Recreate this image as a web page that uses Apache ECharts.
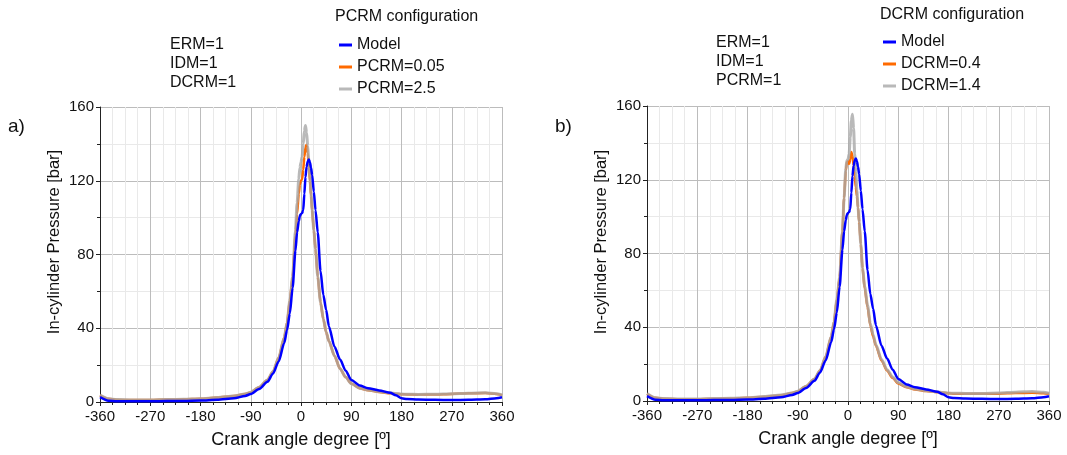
<!DOCTYPE html>
<html>
<head>
<meta charset="utf-8">
<script src="https://cdn.jsdelivr.net/npm/echarts@6/dist/echarts.min.js"></script>
<style>
  html, body { margin: 0; padding: 0; background: #fff; }
  #main { width: 1067px; height: 455px; }
</style>
</head>
<body>
<div id="main"></div>
<script>
// crank angle grid shared by every curve (deg)
var angles = [
  -360, -345, -330, -300, -270, -240, -210, -180, -150, -120,
  -100, -90, -75, -60, -50, -40, -30, -25, -20, -15,
  -10, -7, -4, -2, 0, 2, 4, 6, 8, 10,
  12, 14, 16, 18, 20, 23, 26, 30, 35, 40,
  45, 50, 60, 70, 80, 90, 105, 120, 140, 160,
  170, 180, 190, 210, 240, 270, 300, 330, 350, 360
]

// in-cylinder pressure [bar]
var model = [
  2.6, 0.7, 0.4, 0.4, 0.4, 0.5, 0.6, 0.8, 1.2, 2.0,
  3.3, 4.3, 7, 11, 15.5, 22, 32, 39, 48, 62,
  82, 92, 98, 101, 102, 102.5, 104, 113, 122, 127.5,
  130.5, 131.5, 130, 127, 123, 114, 104, 92, 71, 58,
  50, 41, 30, 23, 17, 12, 9, 7.5, 6.3, 5,
  3.6, 2, 1.6, 1.3, 1.2, 1.1, 1.2, 1.5, 2.1, 2.6
]
var pcrm005 = [
  3.6, 1.7, 1.2, 1.1, 1.1, 1.3, 1.5, 1.8, 2.4, 3.2,
  4.4, 5.2, 8, 12, 16.5, 24, 35, 43, 55, 68,
  90, 102, 113, 118, 120, 121, 126, 133, 138, 139.5,
  135, 128, 120, 112, 104, 93, 83, 68, 54, 45,
  38, 33, 25, 18, 13.5, 10, 7.5, 6.4, 5.4, 4.7,
  4.4, 4.2, 4.1, 4, 4.1, 4.4, 4.7, 4.9, 4.4, 3.7
]
var pcrm25 = [
  3.8, 1.8, 1.3, 1.1, 1.1, 1.3, 1.5, 1.8, 2.4, 3.2,
  4.4, 5.3, 8, 12, 16.5, 24, 35, 43, 55, 68,
  93, 108, 121, 127, 130, 133, 140, 147, 150, 146,
  139, 131, 122, 113, 104, 93, 83, 68, 54, 45,
  38, 33, 25, 18, 13.5, 10, 7.5, 6.5, 5.6, 4.9,
  4.6, 4.3, 4.2, 4.1, 4.2, 4.5, 4.8, 5, 4.5, 3.8
]
var dcrm04 = [
  3.8, 1.7, 1.2, 1.0, 1.0, 1.2, 1.4, 1.7, 2.3, 3.1,
  4.3, 5.2, 8, 12, 16.5, 24, 35, 43, 55, 67,
  92, 110, 125, 129.5, 130, 128.5, 131, 135, 133, 128,
  122, 116, 111, 105, 97, 85, 72, 61, 51, 41,
  35, 30, 22, 16.5, 12.5, 9.5, 7.5, 6.3, 5.4, 4.8,
  4.5, 4.2, 4.0, 3.9, 3.9, 4.0, 4.3, 4.5, 4.2, 3.9
]
var dcrm14 = [
  4.1, 1.8, 1.3, 1.1, 1.1, 1.3, 1.5, 1.8, 2.4, 3.2,
  4.4, 5.3, 8, 12, 16.5, 24, 35, 43, 55, 67,
  92, 110, 126, 130.5, 131, 134, 143, 152, 155.5, 148,
  134, 124, 114, 105, 97, 85, 72, 62, 52, 42,
  36, 30.5, 22.5, 17, 13, 10, 7.7, 6.5, 5.6, 4.9,
  4.6, 4.3, 4.2, 4.1, 4.1, 4.3, 4.8, 5.1, 4.7, 4.2
]

var xTicks = { min: -360, max: 360, step: 90 }
var yTicks = { min: 0, max: 160, step: 40 }

var FONT = 'Liberation Sans, Arial, sans-serif'
var BLUE = '#0000ff'
var ORANGE = '#ff6a00'
var GRAY = 'rgba(168,168,168,0.8)'

function pairs(values) {
  return angles.map(function (a, i) { return [a, values[i]] })
}

function xAxisFor(idx) {
  return {
    type: 'value',
    gridIndex: idx,
    min: xTicks.min,
    max: xTicks.max,
    interval: xTicks.step,
    name: 'Crank angle degree [º]',
    nameLocation: 'middle',
    nameGap: 29,
    nameTextStyle: { fontSize: 18, color: '#111', fontFamily: FONT },
    axisLine: { show: true, onZero: false, lineStyle: { color: '#222', width: 1 } },
    axisTick: { show: true, length: 4, lineStyle: { color: '#222' } },
    minorTick: { show: true, splitNumber: 4, length: 3, lineStyle: { color: '#222' } },
    axisLabel: { fontSize: 15, color: '#111', margin: 7, fontFamily: FONT },
    splitLine: { show: true, lineStyle: { color: '#bcbcbc', width: 1 } },
    minorSplitLine: { show: true, lineStyle: { color: '#e9e9e9', width: 1 } }
  }
}

function yAxisFor(idx) {
  return {
    type: 'value',
    gridIndex: idx,
    min: yTicks.min,
    max: yTicks.max,
    interval: yTicks.step,
    axisLine: { show: true, onZero: false, lineStyle: { color: '#222', width: 1 } },
    axisTick: { show: true, length: 4, lineStyle: { color: '#222' } },
    minorTick: { show: true, splitNumber: 2, length: 3, lineStyle: { color: '#222' } },
    axisLabel: { fontSize: 15, color: '#111', margin: 6, fontFamily: FONT },
    splitLine: { show: true, lineStyle: { color: '#bcbcbc', width: 1 } },
    minorSplitLine: { show: true, lineStyle: { color: '#e9e9e9', width: 1 } }
  }
}

function lineSeries(name, values, idx, color, width, z) {
  return {
    name: name,
    type: 'line',
    xAxisIndex: idx,
    yAxisIndex: idx,
    data: pairs(values),
    showSymbol: false,
    symbol: 'none',
    smooth: 0.25,
    smoothMonotone: 'x',
    color: color,
    lineStyle: { color: color, width: width },
    z: z
  }
}

function legendFor(left, top, names) {
  return {
    orient: 'vertical',
    left: left,
    top: top,
    data: names,
    icon: 'rect',
    itemWidth: 13,
    itemHeight: 3,
    itemGap: 4,
    textStyle: { fontSize: 16, color: '#111', fontFamily: FONT, lineHeight: 18 }
  }
}

function label(text, x, y, size, extra) {
  var el = {
    type: 'text',
    x: x,
    y: y,
    style: {
      text: text,
      fill: '#111',
      font: size + 'px ' + FONT,
      textAlign: 'left',
      textVerticalAlign: 'middle'
    }
  }
  if (extra) {
    for (var k in extra) el.style[k] = extra[k]
  }
  return el
}

function yName(x, y) {
  var el = label('In-cylinder Pressure [bar]', x, y, 16.5, { textAlign: 'center' })
  el.rotation = Math.PI / 2
  return el
}

var chart = echarts.init(document.getElementById('main'))

var option = {
  animation: false,
  backgroundColor: '#fff',
  grid: [
    { left: 100, top: 107, width: 402, height: 295 },
    { left: 647, top: 106, width: 402, height: 295 }
  ],
  xAxis: [xAxisFor(0), xAxisFor(1)],
  yAxis: [yAxisFor(0), yAxisFor(1)],
  legend: [
    legendFor(334, 31, ['Model', 'PCRM=0.05', 'PCRM=2.5']),
    legendFor(878, 28, ['Model', 'DCRM=0.4', 'DCRM=1.4'])
  ],
  graphic: [
    label('a)', 8, 127, 19),
    label('b)', 555, 127, 19),
    yName(54, 242),
    yName(601, 242),
    label('ERM=1\nIDM=1\nDCRM=1', 170, 64, 16, { lineHeight: 19 }),
    label('ERM=1\nIDM=1\nPCRM=1', 716, 62, 16, { lineHeight: 19 }),
    label('PCRM configuration', 335, 17, 16),
    label('DCRM configuration', 880, 15, 16)
  ],
  series: [
    lineSeries('PCRM=0.05', pcrm005, 0, ORANGE, 2.5, 2),
    lineSeries('PCRM=2.5', pcrm25, 0, GRAY, 3, 3),
    lineSeries('Model', model, 0, BLUE, 2.5, 4),
    lineSeries('DCRM=0.4', dcrm04, 1, ORANGE, 2.5, 2),
    lineSeries('DCRM=1.4', dcrm14, 1, GRAY, 3, 3),
    lineSeries('Model', model, 1, BLUE, 2.5, 4)
  ]
}

chart.setOption(option)
</script>
</body>
</html>
